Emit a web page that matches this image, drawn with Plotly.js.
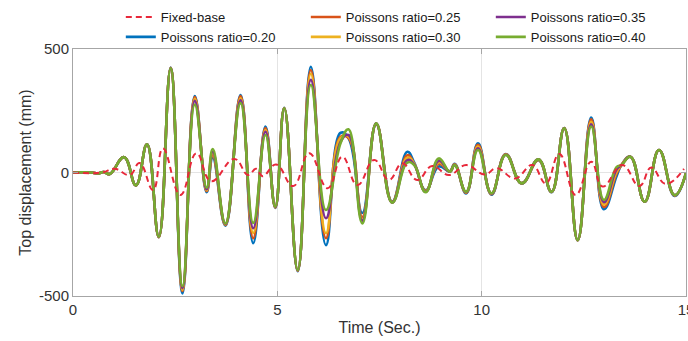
<!DOCTYPE html>
<html>
<head>
<meta charset="utf-8">
<script src="https://cdn.plot.ly/plotly-3.0.1.min.js"></script>
<style>
html,body{margin:0;padding:0;background:#fff;}
#chart{width:688px;height:341px;}
</style>
</head>
<body>
<div id="chart"></div>
<script>
// Time knots (s) for the Poisson-ratio series (extrema)
const tSSI = [0, 0.45, 0.6, 0.75, 0.9, 1.25, 1.54, 1.81, 2.10, 2.39, 2.68, 2.98, 3.27, 3.42, 3.73, 4.10, 4.41, 4.71, 4.95, 5.17, 5.50, 5.82, 6.19, 6.55, 6.74, 7.08, 7.42, 7.81, 8.18, 8.35, 8.63, 8.95, 9.22, 9.34, 9.62, 9.91, 10.24, 10.59, 10.98, 11.39, 11.71, 12.02, 12.35, 12.68, 12.99, 13.30, 13.42, 13.64, 13.99, 14.34, 14.72, 15];

// Top displacement (mm)
const nu020 = [0, 0, -4, 2, -6, 62, -52, 114, -262, 425, -490, 310, -80, 60, -215, 314, -286, 186, -144, 262, -400, 428, -294, 161, 140, -164, 195, -118, 84, 40, -72, 24, 5, 35, -85, 118, -90, 75, -44, 50, -80, 180, -275, 222, -149, -15, 30, 64, -118, 91, -95, -2];
const nu025 = [0, 0, -4, 2, -6, 62, -52, 114, -262, 424, -480, 305, -75, 70, -212, 310, -266, 180, -142, 261, -398, 415, -266, 145, 140, -180, 197, -120, 70, 35, -74, 35, 4, 33, -82, 112, -88, 74, -44, 51, -79, 180, -274, 215, -140, -5, 30, 64, -118, 91, -93, -2];
const nu030 = [0, 0, -4, 2, -6, 62, -52, 114, -261, 423, -475, 298, -72, 78, -210, 300, -245, 172, -140, 261, -397, 400, -246, 140, 145, -190, 198, -121, 60, 35, -76, 42, 4, 32, -80, 105, -86, 73, -44, 52, -79, 179, -274, 205, -130, 3, 30, 64, -118, 91, -92, -2];
const nu035 = [0, 0, -4, 2, -6, 62, -52, 114, -260, 422, -468, 290, -68, 85, -208, 292, -226, 165, -139, 260, -396, 375, -185, 125, 152, -195, 199, -122, 50, 32, -78, 48, 3, 31, -79, 98, -85, 72, -44, 53, -78, 179, -273, 195, -120, 12, 30, 64, -118, 91, -91, -2];
const nu040 = [0, 0, -4, 2, -6, 62, -52, 114, -260, 422, -460, 275, -62, 95, -206, 281, -204, 152, -138, 260, -395, 354, -152, 120, 175, -206, 199, -122, 40, 30, -80, 57, 3, 30, -78, 91, -84, 71, -44, 53, -78, 179, -273, 186, -111, 22, 30, 64, -118, 91, -91, -2];

// Fixed-base response
const tFixed = [0, 0.7, 1.02, 1.39, 1.63, 1.96, 2.20, 2.63, 3.02, 3.38, 3.95, 4.28, 4.48, 4.64, 4.97, 5.39, 5.78, 6.23, 6.59, 6.96, 7.37, 7.73, 8.06, 8.42, 8.79, 9.20, 9.62, 10.07, 10.37, 10.82, 11.24, 11.57, 11.90, 12.30, 12.68, 12.96, 13.44, 13.86, 14.15, 14.50, 14.95];
const fixedBase = [0, 0, 15, -10, 38, -71, 97, -91, 78, -35, 55, -10, 15, -15, 32, -55, 78, -64, 64, -51, 51, -30, 37, -30, 26, -10, 30, -8, 17, -24, 30, -44, 75, -91, 44, -57, 30, -55, 20, -46, 15];

const names = ['Poissons ratio=0.20','Poissons ratio=0.25','Poissons ratio=0.30','Poissons ratio=0.35','Poissons ratio=0.40'];
const colors = ['#0072BD','#D95319','#EDB120','#7E2F8E','#77AC30'];
const seriesVals = [nu020, nu025, nu030, nu035, nu040];
const ranks = [4, 2, 5, 3, 6];

const traces = [];
seriesVals.forEach((v, i) => {
  traces.push({
    x: tSSI, y: v, type: 'scatter', mode: 'lines', name: names[i],
    line: {color: colors[i], width: 2.6, shape: 'spline', smoothing: 1.3},
    legendrank: ranks[i]
  });
});
traces.push({
  x: tFixed, y: fixedBase, type: 'scatter', mode: 'lines', name: 'Fixed-base',
  line: {color: '#E8283A', width: 2, dash: '6px,4px', shape: 'spline', smoothing: 1.3},
  legendrank: 1
});

const layout = {
  width: 688, height: 341,
  margin: {l: 73, r: 2, t: 49, b: 45, pad: 0},
  paper_bgcolor: '#fff', plot_bgcolor: '#fff',
  font: {family: 'Liberation Sans, Arial, sans-serif', color: '#262626'},
  showlegend: true,
  legend: {
    orientation: 'h', x: 0.078, y: 1.19, xanchor: 'left', yanchor: 'top',
    entrywidth: 140, entrywidthmode: 'pixels',
    font: {size: 13, color: '#1a1a1a'}, bgcolor: 'rgba(0,0,0,0)', tracegroupgap: 0
  },
  xaxis: {
    range: [0, 15], tickvals: [0, 5, 10, 15], ticktext: ['0', '5', '10', '15'],
    showgrid: true, gridcolor: '#e4e4e4', zeroline: false,
    showline: true, linecolor: '#a6a6a6', linewidth: 1, mirror: 'ticks',
    ticks: 'inside', ticklen: 5, tickcolor: '#a6a6a6',
    tickfont: {size: 15, color: '#333'}, ticklabeloverflow: 'allow',
    title: {text: 'Time (Sec.)', font: {size: 16, color: '#333'}, standoff: 4}
  },
  yaxis: {
    range: [-500, 500], tickvals: [-500, 0, 500], ticktext: ['-500', '0', '500'],
    showgrid: true, gridcolor: '#e4e4e4', zeroline: false,
    showline: true, linecolor: '#a6a6a6', linewidth: 1, mirror: 'ticks',
    ticks: 'inside', ticklen: 5, tickcolor: '#a6a6a6',
    tickfont: {size: 15, color: '#333'},
    title: {text: 'Top displacement (mm)', font: {size: 16, color: '#333'}, standoff: 3}
  }
};

Plotly.newPlot('chart', traces, layout, {staticPlot: true, displayModeBar: false});
</script>
</body>
</html>
